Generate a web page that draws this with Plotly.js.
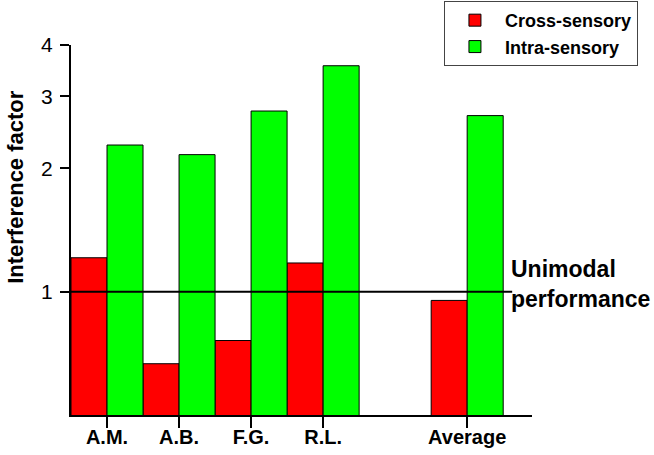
<!DOCTYPE html>
<html>
<head>
<meta charset="utf-8">
<script src="https://cdn.plot.ly/plotly-3.0.1.min.js"></script>
<style>
  html, body { margin: 0; padding: 0; background: #fff; }
  #chart { width: 654px; height: 455px; }
</style>
</head>
<body>
<div id="chart"></div>
<script>
// categories, with one empty slot before the average
const categories = ['A.M.', 'A.B.', 'F.G.', 'R.L.', ' ', 'Average'];
const crossSensory = [1.21, 0.667, 0.76, 1.175, null, 0.952];
const intraSensory = [2.28, 2.16, 2.76, 3.56, null, 2.69];
const yTicks = [1, 2, 3, 4];
const unimodalLevel = 1;

const fontFamily = 'Arial, "Liberation Sans", sans-serif';

function drawChart() {
  let cross = {
    type: 'bar',
    name: 'Cross-sensory',
    x: categories,
    y: crossSensory,
    marker: { color: '#ff0000', line: { color: '#000', width: 1 } },
  };
  let intra = {
    type: 'bar',
    name: 'Intra-sensory',
    x: categories,
    y: intraSensory,
    marker: { color: '#00ff00', line: { color: '#000', width: 1 } },
  };

  let layout = {
    width: 654,
    height: 455,
    margin: { l: 71, r: 122, t: 45, b: 40, autoexpand: false },
    paper_bgcolor: '#fff',
    plot_bgcolor: '#fff',
    font: { family: fontFamily, color: '#000' },
    barmode: 'group',
    bargap: 0,
    bargroupgap: 0,
    xaxis: {
      type: 'category',
      range: [-0.5, 5.9],
      tickmode: 'array',
      tickvals: categories.filter(c => c.trim() !== ''),
      showline: true,
      linecolor: '#000',
      linewidth: 2,
      ticks: 'outside',
      ticklen: 11,
      tickwidth: 2,
      tickcolor: '#000',
      showgrid: false,
      zeroline: false,
      ticklabelstandoff: -8,
      tickfont: { size: 20, weight: 'bold' },
    },
    yaxis: {
      type: 'log',
      range: [Math.log10(0.5), Math.log10(4)],
      tickmode: 'array',
      tickvals: yTicks,
      ticktext: yTicks.map(String),
      showline: true,
      linecolor: '#000',
      linewidth: 2,
      ticks: 'outside',
      ticklen: 9,
      tickwidth: 2,
      tickcolor: '#000',
      showgrid: false,
      zeroline: false,
      ticklabelstandoff: 3,
      tickfont: { size: 21 },
    },
    legend: {
      x: 0.809, y: 1.119, xanchor: 'left', yanchor: 'top',
      bordercolor: '#444', borderwidth: 1,
      itemwidth: 50,
      font: { size: 18, weight: 'bold' },
    },
    showlegend: true,
    shapes: [{
      type: 'line', xref: 'paper', yref: 'y',
      x0: 0, x1: 0.957,
      y0: unimodalLevel, y1: unimodalLevel,
      line: { color: '#000', width: 2 },
    }],
    annotations: [{
      xref: 'paper', yref: 'y',
      x: 0.95, y: Math.log10(unimodalLevel),
      xanchor: 'left', yanchor: 'middle', yshift: 8,
      align: 'left', showarrow: false,
      text: 'Unimodal<br>performance',
      font: { size: 23, weight: 'bold' },
    }, {
      // y axis title, placed like the original (above the axis centre)
      xref: 'paper', yref: 'paper',
      x: -0.122, y: 0.616,
      xanchor: 'center', yanchor: 'middle',
      textangle: -90, showarrow: false,
      text: 'Interference factor',
      font: { size: 22, weight: 'bold' },
    }],
  };

  Plotly.newPlot(document.getElementById('chart'), [cross, intra], layout, { displayModeBar: false, staticPlot: true });
}
drawChart();
</script>
</body>
</html>
